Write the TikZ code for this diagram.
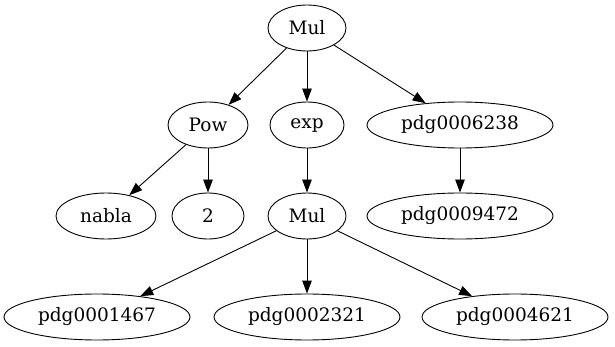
\documentclass[tikz,border=0pt]{standalone}
\usepackage{fontspec}
\setmainfont{DejaVu Serif}
\usetikzlibrary{shapes.geometric,arrows.meta}
\begin{document}
\begin{tikzpicture}[x=1pt,y=1pt,
  nd/.style={draw,ellipse,line width=0.9pt,inner sep=0pt,minimum height=46pt,font=\fontsize{18.5}{20}\selectfont},
  ed/.style={line width=0.9pt,-{Triangle[length=13pt,width=9.5pt]}}]
\useasboundingbox (0,0) rectangle (615,-347);
\node[nd,minimum width=78pt] (mul) at (307,-28) {Mul};
\node[nd,minimum width=80pt] (pow) at (208,-125) {Pow};
\node[nd,minimum width=74pt] (exp) at (307,-125) {exp};
\node[nd,minimum width=186pt] (p6238) at (460,-125) {pdg0006238};
\node[nd,minimum width=100pt] (nabla) at (106,-216) {nabla};
\node[nd,minimum width=72pt] (two) at (208,-216) {2};
\node[nd,minimum width=78pt] (mul2) at (307,-216) {Mul};
\node[nd,minimum width=186pt] (p9472) at (460,-216) {pdg0009472};
\node[nd,minimum width=186pt] (p1467) at (97,-317) {pdg0001467};
\node[nd,minimum width=186pt] (p2321) at (307,-317) {pdg0002321};
\node[nd,minimum width=186pt] (p4621) at (515,-317) {pdg0004621};
\draw[ed] (mul) -- (pow);
\draw[ed] (mul) -- (exp);
\draw[ed] (mul) -- (p6238);
\draw[ed] (pow) -- (nabla);
\draw[ed] (pow) -- (two);
\draw[ed] (exp) -- (mul2);
\draw[ed] (p6238) -- (p9472);
\draw[ed] (mul2) -- (p1467);
\draw[ed] (mul2) -- (p2321);
\draw[ed] (mul2) -- (p4621);
\end{tikzpicture}
\end{document}
